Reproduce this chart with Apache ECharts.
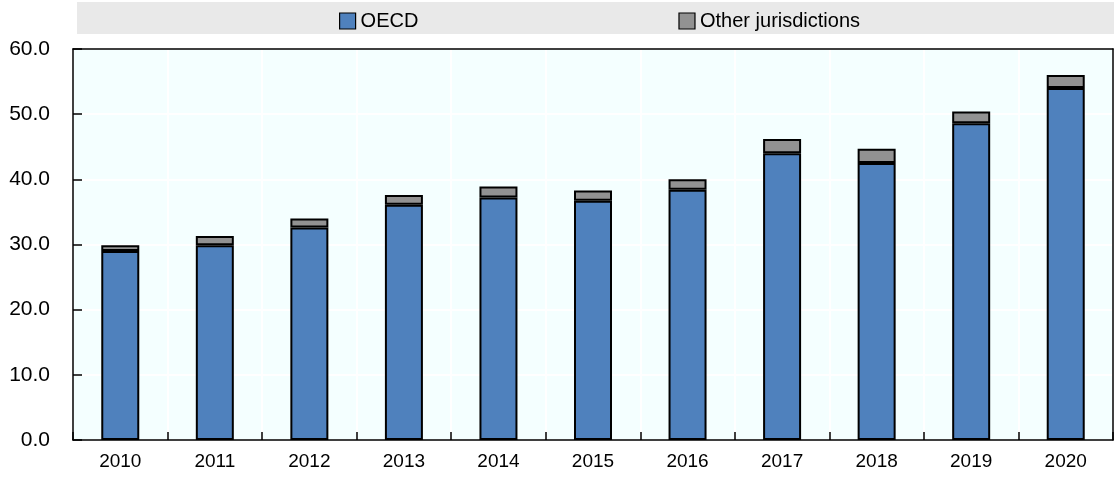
<!DOCTYPE html>
<html>
<head>
<meta charset="utf-8">
<script src="https://cdn.jsdelivr.net/npm/echarts@6/dist/echarts.min.js"></script>
<style>
html,body{margin:0;padding:0;background:#fff;}
#chart{width:1114px;height:479px;}
</style>
</head>
<body>
<div id="chart"></div>
<script>
const years = ['2010','2011','2012','2013','2014','2015','2016','2017','2018','2019','2020'];
const oecd = [29.0, 29.9, 32.6, 36.1, 37.2, 36.7, 38.4, 44.0, 42.5, 48.6, 54.0];
const other = [0.9, 1.4, 1.4, 1.5, 1.7, 1.6, 1.6, 2.2, 2.2, 1.8, 2.0];
const yTicks = [0, 10, 20, 30, 40, 50, 60];

const FONT = '"Liberation Sans", Arial, sans-serif';
const yMin = yTicks[0], yMax = yTicks[yTicks.length - 1];
const frameAxis = {
  axisLine: {show: true, onZero: false, lineStyle: {color: '#000', width: 1.5}},
  axisTick: {show: false}, axisLabel: {show: false}, splitLine: {show: false}
};

const chart = echarts.init(document.getElementById('chart'), null, {renderer: 'canvas'});
chart.setOption({
  animation: false,
  graphic: [{
    type: 'rect', z: -10, silent: true,
    shape: {x: 77, y: 2, width: 1037, height: 32},
    style: {fill: '#e9e9e9'}
  }],
  legend: {
    top: 6, left: 334,
    itemWidth: 16, itemHeight: 16, itemGap: 260,
    textStyle: {fontFamily: FONT, fontSize: 20, color: '#000'},
    data: [
      {name: 'OECD', icon: 'rect', itemStyle: {borderColor: '#000', borderWidth: 1.2}},
      {name: 'Other jurisdictions', icon: 'rect', itemStyle: {borderColor: '#000', borderWidth: 1.2}}
    ]
  },
  grid: {
    left: 73, right: 1, top: 49, bottom: 39,
    show: true, backgroundColor: '#f4ffff', borderWidth: 0
  },
  xAxis: [{
    type: 'category', data: years,
    axisLine: {show: false}, axisTick: {show: false}, axisLabel: {show: false},
    splitLine: {show: true, lineStyle: {color: '#fff', width: 2}}
  }, {
    type: 'category', data: years, position: 'bottom', z: 5,
    axisLine: {show: true, onZero: false, lineStyle: {color: '#000', width: 1.5}},
    axisTick: {show: true, inside: true, length: 8, lineStyle: {color: '#000', width: 1.5}},
    axisLabel: {fontFamily: FONT, fontSize: 19, color: '#000', margin: 12},
    splitLine: {show: false}
  }, Object.assign({type: 'category', data: years, position: 'top', z: 5}, frameAxis)],
  yAxis: [{
    type: 'value', min: yMin, max: yMax, interval: 10,
    axisLine: {show: false}, axisTick: {show: false}, axisLabel: {show: false},
    splitLine: {show: true, lineStyle: {color: '#fff', width: 2}}
  }, {
    type: 'value', min: yMin, max: yMax, interval: 10, position: 'left', z: 5,
    axisLine: {show: true, onZero: false, lineStyle: {color: '#000', width: 1.5}},
    axisTick: {show: true, inside: false, length: -9, lineStyle: {color: '#000', width: 1.5}},
    axisLabel: {fontFamily: FONT, fontSize: 21, color: '#000', margin: 23,
      formatter: v => v.toFixed(1)},
    splitLine: {show: false}
  }, Object.assign({type: 'value', min: yMin, max: yMax, interval: 10, position: 'right', z: 5}, frameAxis)],
  series: [
    {name: 'OECD', type: 'bar', stack: 'total', data: oecd, barWidth: 38,
      xAxisIndex: 0, yAxisIndex: 0,
      itemStyle: {color: '#4f81bd', borderColor: '#000', borderWidth: 2}},
    {name: 'Other jurisdictions', type: 'bar', stack: 'total', data: other, barWidth: 38,
      xAxisIndex: 0, yAxisIndex: 0,
      itemStyle: {color: '#929292', borderColor: '#000', borderWidth: 2}}
  ]
});
</script>
</body>
</html>
